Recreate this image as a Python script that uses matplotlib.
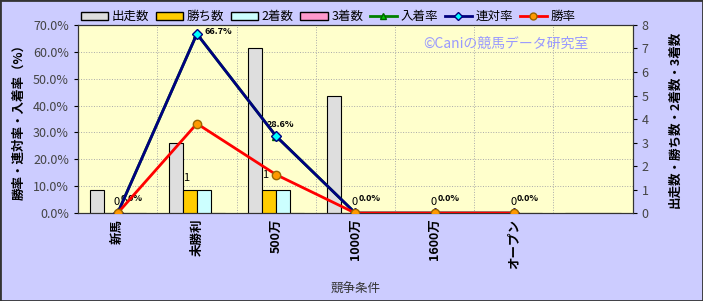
import matplotlib
matplotlib.use("Agg")
import matplotlib.pyplot as plt
import numpy as np
from matplotlib.lines import Line2D
from matplotlib.patches import Patch

plt.rcParams['font.family'] = ['Noto Sans CJK JP', 'DejaVu Sans']

categories = ['新馬', '未勝利', '500万', '1000万', '1600万', 'オープン', '']
starts = [1, 3, 7, 5, 0, 0, 0]
wins = [0, 1, 1, 0, 0, 0, 0]
seconds = [0, 1, 1, 0, 0, 0, 0]
thirds = [0, 0, 0, 0, 0, 0, 0]
place_rate = [0.0, 66.7, 28.6, 0.0, 0.0, 0.0]
rentai_rate = [0.0, 66.7, 28.6, 0.0, 0.0, 0.0]
win_rate = [0.0, 33.3, 14.3, 0.0, 0.0, 0.0]

fig = plt.figure(figsize=(7.03, 3.01), dpi=100, facecolor='#CCCCFF')
ax = fig.add_axes([0.111, 0.292, 0.789, 0.625])
ax2 = ax.twinx()
ax.set_zorder(2); ax2.set_zorder(1)
ax.patch.set_visible(False)
ax2.patch.set_visible(True)
ax2.set_facecolor('#FFFFCC')

n = len(categories)
x = np.arange(n)
w = 0.177
bar_specs = [(starts, '#DEDEDE'), (wins, '#FFCC00'), (seconds, '#CCFFFF'), (thirds, '#FF99CC')]
for i, (vals, col) in enumerate(bar_specs):
    ax2.bar(x + (i - 1.5) * w, vals, width=w, color=col, edgecolor='black', linewidth=0.8, zorder=3)

ax2.set_ylim(0, 8)
ax2.set_yticks(range(0, 9))
ax.set_xlim(-0.5, n - 0.5)
ax2.set_xlim(-0.5, n - 0.5)

xl = x[:len(win_rate)]
ax.plot(xl, place_rate, color='green', lw=2, marker='^', ms=6, mfc='#00CC00', mec='#006600', zorder=4)
ax.plot(xl, rentai_rate, color='#000080', lw=2, marker='D', ms=5, mfc='#00FFFF', mec='#000080', zorder=5)
ax.plot(xl, win_rate, color='#FF0000', lw=2, marker='o', ms=6, mfc='#FF9900', mec='#996600', zorder=6)
ax.set_ylim(0, 70)
ax.set_yticks(np.arange(0, 71, 10))
ax.set_yticklabels([f'{v:.1f}%' for v in np.arange(0, 71, 10)])

# grid
for b in np.arange(0.5, n - 0.5, 1):
    ax2.axvline(b, color='#AAAAAA', lw=0.7, ls=':', zorder=1)
for yv in np.arange(10, 71, 10):
    ax2.axhline(yv * 8 / 70, color='#AAAAAA', lw=0.7, ls=':', zorder=1)

ax.set_xticks(x)
ax.set_xticklabels(categories, rotation=90, fontsize=9, fontweight='bold')
ax.tick_params(axis='x', length=0, pad=4)
ax.tick_params(axis='y', labelsize=9, labelcolor='#444444', length=3)
ax2.tick_params(axis='y', labelsize=9, labelcolor='#444444', length=3)
for a in (ax, ax2):
    for s in a.spines.values():
        s.set_color('#333333')
ax.set_ylabel('勝率・連対率・入着率（%）', fontsize=9, fontweight='bold')
ax2.set_ylabel('出走数・勝ち数・2着数・3着数', fontsize=9, fontweight='bold', rotation=90, labelpad=14)
ax.yaxis.set_label_coords(-0.095, 0.5)
ax.set_xlabel('競争条件', fontsize=9, color='#333333')
ax.xaxis.set_label_coords(0.5, -0.37)

# data labels
for i, r in enumerate(rentai_rate):
    if r == 0:
        ax.text(i + 0.04, 3.8, '0.0%', fontsize=6.5, fontweight='bold', ha='left', va='bottom')
        ax.text(i + 0.03, 2.2, '0', fontsize=8, ha='right', va='bottom')
    elif r > 60:
        ax.text(i + 0.1, r + 1.0, f'{r:.1f}%', fontsize=6.5, fontweight='bold', ha='left', va='center')
    else:
        ax.text(i + 0.05, r + 2.8, f'{r:.1f}%', fontsize=6.5, fontweight='bold', ha='center', va='bottom')
ax2.text(1 - 0.13, 1.3, '1', fontsize=8, ha='center', va='bottom')
ax2.text(2 - 0.1, 1.6, '1', fontsize=8, ha='right', va='center')

fig.text(0.72, 0.855, '©Caniの競馬データ研究室', fontsize=10, color='#9999FF', ha='center', va='center')

handles = [
    Patch(facecolor='#DEDEDE', edgecolor='black', label='出走数'),
    Patch(facecolor='#FFCC00', edgecolor='black', label='勝ち数'),
    Patch(facecolor='#CCFFFF', edgecolor='black', label='2着数'),
    Patch(facecolor='#FF99CC', edgecolor='black', label='3着数'),
    Line2D([], [], color='green', lw=2, marker='^', ms=5, mfc='#00CC00', mec='#006600', label='入着率'),
    Line2D([], [], color='#000080', lw=2, marker='D', ms=4, mfc='#00FFFF', mec='#000080', label='連対率'),
    Line2D([], [], color='#FF0000', lw=2, marker='o', ms=5, mfc='#FF9900', mec='#996600', label='勝率'),
]
fig.legend(handles=handles, loc='center', bbox_to_anchor=(0.467, 0.945), ncol=7, frameon=False,
           fontsize=9, handlelength=2.2, handleheight=0.6, columnspacing=0.5, handletextpad=0.3)

border = plt.Rectangle((0, 0), 1, 1, transform=fig.transFigure, fill=False, edgecolor='#333333', lw=2)
fig.patches.append(border)

fig.savefig('out.png', dpi=100, facecolor=fig.get_facecolor())
